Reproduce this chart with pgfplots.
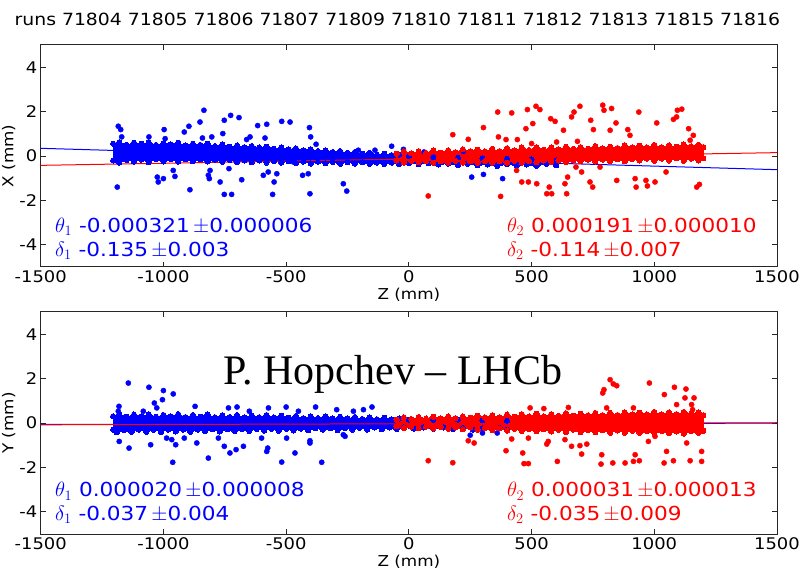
\documentclass[border=0pt]{standalone}
\usepackage{pgfplots}
\pgfplotsset{compat=1.18}
\usepackage{fontspec}
\setmainfont{DejaVu Sans}[FakeStretch=1.12]
\newfontfamily\timesfont{Liberation Serif}
\tikzset{ann/.style={anchor=base west, inner sep=0pt, text=#1, font=\fontsize{19.3}{19.3}\selectfont}}
\begin{document}
\begin{tikzpicture}[x=1pt,y=1pt]
\useasboundingbox (0,0) rectangle (803,576);
\pgfplotsset{
 panel/.style={
  scale only axis, width=736.3pt, height=222pt, anchor=south west,
  xmin=-1500,xmax=1500,ymin=-5,ymax=5,
  xtick={-1500,-1000,-500,0,500,1000,1500},
  xticklabels={-1500,-1000,-500,0,500,1000,1500},
  ytick={-4,-2,0,2,4}, yticklabels={-4,-2,0,2,4},
  tick align=inside, major tick length=5pt,
  tick style={black!85, line width=0.8pt},
  ticklabel style={font=\fontsize{16}{16}\selectfont},
  xlabel style={font=\fontsize{15}{15}\selectfont, at={(axis description cs:0.5,-0.126)}, anchor=center},
  ylabel style={font=\fontsize{15}{15}\selectfont, at={(axis description cs:-0.0435,0.5)}, anchor=center},
  axis line style={line width=1pt, black!85},
  xlabel={Z (mm)},
 },
 band/.style={line width=0pt, mark=*, mark size=2.6pt, #1, fill=#1},
 outl/.style={only marks, mark=*, mark size=2.6pt, #1},
 fit/.style={#1, line width=1pt},
}
% ---------------- top panel : X ----------------
\begin{axis}[panel, at={(40.7pt,309pt)}, ylabel={X (mm)}]
\addplot[band=blue] coordinates {
(-1205,0.55)(-1180,0.62)(-1150,0.5)(-1120,0.6)(-1090,0.55)(-1060,0.62)(-1030,0.5)(-1000,0.58)(-970,0.52)(-940,0.6)(-910,0.48)(-880,0.55)(-850,0.5)(-820,0.55)(-790,0.45)(-760,0.52)(-730,0.42)(-700,0.48)(-670,0.4)(-640,0.45)(-610,0.38)(-580,0.42)(-550,0.33)(-520,0.38)(-490,0.3)(-460,0.34)(-430,0.26)(-400,0.3)(-370,0.22)(-340,0.25)(-310,0.18)(-280,0.22)(-250,0.14)(-220,0.18)(-190,0.1)(-160,0.14)(-130,0.06)(-100,0.1)(-70,0.04)(-40,0.06)(0,0.0)(100,-0.05)(200,-0.08)(300,-0.1)(400,-0.12)(500,-0.15)(600,-0.2)
(600,-0.42)(560,-0.35)(520,-0.45)(480,-0.38)(440,-0.44)(400,-0.36)(360,-0.45)(320,-0.38)(280,-0.42)(240,-0.35)(200,-0.4)(160,-0.34)(120,-0.38)(80,-0.33)(40,-0.37)(0,-0.32)(-40,-0.36)(-70,-0.3)(-100,-0.36)(-130,-0.3)(-160,-0.35)(-190,-0.28)(-220,-0.34)(-250,-0.28)(-280,-0.35)(-310,-0.27)(-340,-0.33)(-370,-0.26)(-400,-0.34)(-430,-0.25)(-460,-0.32)(-490,-0.24)(-520,-0.3)(-550,-0.22)(-580,-0.3)(-610,-0.2)(-640,-0.28)(-670,-0.2)(-700,-0.27)(-730,-0.18)(-760,-0.26)(-790,-0.17)(-820,-0.25)(-850,-0.15)(-880,-0.24)(-910,-0.15)(-940,-0.25)(-970,-0.14)(-1000,-0.25)(-1030,-0.15)(-1060,-0.28)(-1090,-0.16)(-1120,-0.25)(-1150,-0.18)(-1180,-0.3)(-1205,-0.2)(-1205,0.55)};
\addplot[outl=blue] coordinates {
(-1184,1.34)(-1174,1.19)(-1170,0.86)(-1188,-1.40)(-1059,0.86)(-1025,-0.95)(-1021,-1.17)(-1000,-1.02)(-997,1.19)(-993,0.78)(-960,-0.65)(-953,-0.92)(-915,1.08)(-896,1.34)(-892,-1.52)(-851,1.53)(-841,0.81)(-835,2.06)(-817,-0.87)(-813,-1.02)(-803,0.86)(-810,-0.65)(-758,1.01)(-752,1.61)(-769,-1.17)(-752,-1.73)(-726,1.83)(-722,-1.73)(-733,-0.57)(-692,1.73)(-681,-1.07)(-661,0.74)(-647,0.86)(-616,1.37)(-593,-0.87)(-579,1.43)(-586,0.81)(-573,-0.72)(-555,-1.73)(-549,-1.17)(-538,-0.80)(-518,1.56)(-484,1.53)(-471,-0.27)(-433,-0.87)(-405,1.28)(-400,0.86)(-410,-0.80)(-403,-1.70)(-378,0.53)(-267,-1.25)(-253,-1.58)(-206,0.26)(-138,0.26)(-70,0.44)(-22,0.30)(256,-0.95)(304,-0.83)(382,-1.02)(62,0.18)(222,0.21)};
\addplot[fit=blue] coordinates {(-1500,0.346)(1500,-0.616)};
\addplot[band=red] coordinates {
(-50,0.1)(-20,0.2)(10,0.12)(40,0.22)(70,0.14)(100,0.25)(130,0.15)(160,0.26)(190,0.17)(220,0.3)(250,0.2)(280,0.28)(310,0.2)(340,0.32)(370,0.22)(400,0.35)(430,0.25)(460,0.38)(490,0.27)(520,0.4)(550,0.28)(580,0.38)(610,0.3)(640,0.42)(670,0.32)(700,0.4)(730,0.33)(760,0.45)(790,0.34)(820,0.42)(850,0.36)(880,0.48)(910,0.38)(940,0.46)(970,0.38)(1000,0.5)(1030,0.4)(1060,0.48)(1090,0.42)(1120,0.52)(1150,0.44)(1180,0.5)(1200,0.4)
(1200,-0.1)(1180,-0.2)(1150,-0.12)(1120,-0.22)(1090,-0.1)(1060,-0.2)(1030,-0.12)(1000,-0.22)(970,-0.12)(940,-0.2)(910,-0.14)(880,-0.24)(850,-0.15)(820,-0.22)(790,-0.16)(760,-0.25)(730,-0.17)(700,-0.24)(670,-0.2)(640,-0.28)(610,-0.2)(580,-0.27)(550,-0.2)(520,-0.28)(490,-0.22)(460,-0.3)(430,-0.22)(400,-0.3)(370,-0.24)(340,-0.3)(310,-0.22)(280,-0.3)(250,-0.24)(220,-0.3)(190,-0.22)(160,-0.3)(130,-0.24)(100,-0.3)(70,-0.22)(40,-0.28)(10,-0.22)(-20,-0.3)(-50,-0.2)(-50,0.1)};
\addplot[outl=red] coordinates {
(79,-1.80)(179,0.96)(242,0.75)(304,1.28)(362,1.98)(374,-1.82)(365,0.86)(396,0.74)(419,1.94)(442,0.74)(439,-0.65)(460,-1.17)(477,1.23)(483,2.09)(487,-1.17)(500,0.56)(505,1.46)(518,2.24)(521,-1.25)(534,2.09)(562,-1.70)(572,-1.40)(582,-1.70)(578,1.68)(596,1.56)(602,0.63)(630,1.16)(636,-1.25)(643,-1.70)(647,-0.95)(663,1.76)(673,1.98)(687,0.66)(697,2.24)(704,-0.72)(738,-1.17)(741,1.61)(749,-1.40)(752,1.19)(790,2.29)(795,2.06)(820,1.16)(826,2.14)(844,1.49)(847,-1.10)(892,1.19)(901,0.93)(922,-1.02)(926,-1.40)(937,1.98)(966,-1.10)(972,-1.35)(1010,1.49)(1003,-1.17)(1048,-0.72)(1078,1.65)(1094,2.06)(1112,2.11)(1091,1.76)(1140,1.23)(1146,0.71)(1159,0.93)(1173,-1.40)(1184,-1.28)(681,-0.5)(779,-0.5)};
\addplot[fit=red] coordinates {(-1500,-0.4215)(1500,0.1515)};
\node[ann=blue] at (axis cs:-1442,-3.43) {$\theta_1$\ -0.000321\,$\pm$0.000006};
\node[ann=blue] at (axis cs:-1442,-4.52) {$\delta_1$\ -0.135\,$\pm$0.003};
\node[ann=red] at (axis cs:400,-3.43) {$\theta_2$\ 0.000191\,$\pm$0.000010};
\node[ann=red] at (axis cs:400,-4.52) {$\delta_2$\ -0.114\,$\pm$0.007};
\end{axis}
% ---------------- bottom panel : Y ----------------
\begin{axis}[panel, at={(40.7pt,42pt)}, ylabel={Y (mm)}]
\addplot[band=blue] coordinates {
(-1205,0.3)(-1180,0.4)(-1150,0.28)(-1120,0.38)(-1090,0.3)(-1060,0.4)(-1030,0.28)(-1000,0.36)(-970,0.3)(-940,0.4)(-910,0.27)(-880,0.36)(-850,0.28)(-820,0.38)(-790,0.26)(-760,0.35)(-730,0.27)(-700,0.36)(-670,0.25)(-640,0.34)(-610,0.26)(-580,0.36)(-550,0.25)(-520,0.33)(-490,0.24)(-460,0.32)(-430,0.22)(-400,0.3)(-370,0.22)(-340,0.3)(-310,0.2)(-280,0.28)(-250,0.2)(-220,0.27)(-190,0.18)(-160,0.25)(-130,0.17)(-100,0.24)(-70,0.16)(-40,0.2)(0,0.15)(100,0.15)(200,0.15)(300,0.12)(400,0.1)
(400,-0.3)(370,-0.22)(340,-0.32)(300,-0.25)(260,-0.3)(220,-0.22)(180,-0.28)(140,-0.2)(100,-0.26)(60,-0.2)(20,-0.25)(-20,-0.2)(-50,-0.27)(-80,-0.2)(-110,-0.28)(-140,-0.2)(-170,-0.3)(-200,-0.22)(-230,-0.3)(-260,-0.22)(-290,-0.32)(-320,-0.24)(-350,-0.3)(-380,-0.24)(-410,-0.33)(-440,-0.25)(-470,-0.34)(-500,-0.26)(-530,-0.35)(-560,-0.26)(-590,-0.34)(-620,-0.27)(-650,-0.36)(-680,-0.28)(-710,-0.36)(-740,-0.28)(-770,-0.38)(-800,-0.28)(-830,-0.36)(-860,-0.3)(-890,-0.4)(-920,-0.3)(-950,-0.38)(-980,-0.3)(-1010,-0.4)(-1040,-0.3)(-1070,-0.4)(-1100,-0.3)(-1130,-0.4)(-1160,-0.32)(-1190,-0.42)(-1205,-0.3)(-1205,0.3)};
\addplot[outl=blue] coordinates {
(-1184,0.53)(-1181,0.75)(-1180,-0.83)(-1140,-1.13)(-1143,1.8)(-1082,0.53)(-1059,1.61)(-1052,-0.98)(-1037,0.90)(-1027,0.68)(-1004,1.05)(-1000,1.46)(-987,-0.68)(-966,-0.75)(-960,1.31)(-962,-1.77)(-950,-0.98)(-915,-0.68)(-871,0.75)(-864,-0.90)(-817,-1.58)(-776,-0.68)(-752,-1.05)(-735,0.68)(-729,-1.35)(-704,-1.20)(-674,-1.05)(-650,0.53)(-600,-0.68)(-579,-1.28)(-575,-1.13)(-572,0.68)(-518,-1.76)(-498,-0.68)(-464,-1.35)(-450,0.53)(-403,-0.90)(-403,-0.80)(-355,-1.77)(-267,-0.53)(-260,-0.60)(-226,0.53)(-185,0.60)(-294,0.60)(-700,0.72)(-500,0.72)(-380,0.72)(-150,0.72)(250,-0.55)(300,-0.45)(360,-0.45)};
\addplot[fit=blue] coordinates {(-1500,-0.067)(1500,-0.007)};
\addplot[band=red] coordinates {
(-50,0.15)(-20,0.25)(10,0.18)(40,0.27)(70,0.2)(100,0.28)(130,0.2)(160,0.3)(190,0.22)(220,0.3)(250,0.24)(280,0.33)(310,0.25)(340,0.35)(370,0.26)(400,0.38)(430,0.28)(460,0.4)(490,0.3)(520,0.42)(550,0.3)(580,0.4)(610,0.32)(640,0.44)(670,0.33)(700,0.42)(730,0.34)(760,0.45)(790,0.35)(820,0.46)(850,0.36)(880,0.48)(910,0.38)(940,0.46)(970,0.38)(1000,0.5)(1030,0.38)(1060,0.48)(1090,0.4)(1120,0.5)(1150,0.42)(1180,0.48)(1200,0.35)
(1200,-0.35)(1180,-0.45)(1150,-0.36)(1120,-0.48)(1090,-0.38)(1060,-0.46)(1030,-0.36)(1000,-0.46)(970,-0.36)(940,-0.45)(910,-0.35)(880,-0.44)(850,-0.34)(820,-0.44)(790,-0.33)(760,-0.42)(730,-0.32)(700,-0.42)(670,-0.3)(640,-0.4)(610,-0.3)(580,-0.38)(550,-0.28)(520,-0.37)(490,-0.28)(460,-0.36)(430,-0.26)(400,-0.34)(370,-0.24)(340,-0.32)(310,-0.22)(280,-0.3)(250,-0.2)(220,-0.28)(190,-0.2)(160,-0.26)(130,-0.18)(100,-0.25)(70,-0.17)(40,-0.23)(10,-0.16)(-20,-0.22)(-50,-0.15)(-50,0.15)};
\addplot[outl=red] coordinates {
(79,-1.70)(179,-1.79)(242,-0.80)(266,-0.90)(396,-1.25)(419,-0.72)(464,-1.35)(469,-1.83)(487,-1.83)(494,0.68)(487,-0.68)(562,-0.95)(568,-0.83)(605,-1.73)(636,-0.75)(663,-1.05)(697,-1.02)(704,-1.40)(725,-0.95)(783,-1.85)(786,-1.43)(790,1.35)(795,1.50)(820,1.95)(833,1.76)(847,1.68)(831,-1.80)(881,-1.80)(915,-1.73)(922,-1.43)(939,-1.70)(980,1.80)(976,-0.83)(1003,-0.60)(1041,1.28)(1040,-1.80)(1050,-1.28)(1078,-1.70)(1082,1.61)(1091,0.83)(1125,1.13)(1129,1.53)(1132,-0.90)(1146,-1.70)(1152,0.83)(1156,0.60)(1162,1.13)(1193,-1.28)(1193,-1.73)(915,0.68)(806,0.68)(650,0.7)(550,0.65)};
\addplot[fit=red] coordinates {(-1500,-0.0815)(1500,0.0115)};
\node[ann=blue] at (axis cs:-1442,-3.33) {$\theta_1$\ 0.000020\,$\pm$0.000008};
\node[ann=blue] at (axis cs:-1442,-4.40) {$\delta_1$\ -0.037\,$\pm$0.004};
\node[ann=red] at (axis cs:400,-3.33) {$\theta_2$\ 0.000031\,$\pm$0.000013};
\node[ann=red] at (axis cs:400,-4.40) {$\delta_2$\ -0.035\,$\pm$0.009};
\end{axis}
\node[font=\fontsize{16.8}{16.8}\selectfont] at (397.5pt,557pt) {runs 71804 71805 71806 71807 71809 71810 71811 71812 71813 71815 71816};
\node[anchor=base, fill=white, inner xsep=18pt, inner ysep=9pt, font=\timesfont\fontsize{42}{42}\selectfont] at (393pt,191pt) {P. Hopchev – LHCb};
\end{tikzpicture}
\end{document}
